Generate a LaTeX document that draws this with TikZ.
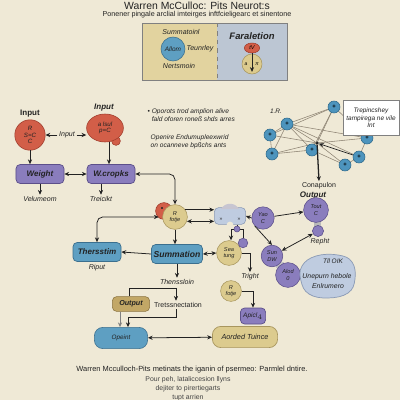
\documentclass[tikz,border=0pt]{standalone}
\usepackage{fontspec}
\setmainfont{Liberation Sans}
\usetikzlibrary{arrows.meta,shapes.geometric}
\definecolor{bg}{HTML}{EFE9D6}
\definecolor{purp}{HTML}{8A7DBD}
\definecolor{purpd}{HTML}{5C4F8A}
\definecolor{tealc}{HTML}{5E9FC2}
\definecolor{teald}{HTML}{3B6F8E}
\definecolor{tanc}{HTML}{DCCB8E}
\definecolor{tand}{HTML}{A8965E}
\definecolor{outc}{HTML}{C2A766}
\definecolor{outd}{HTML}{8C7440}
\definecolor{redc}{HTML}{D25E48}
\definecolor{redd}{HTML}{A03C2C}
\definecolor{blobc}{HTML}{BFCCE0}
\definecolor{blobd}{HTML}{8A9AB5}
\definecolor{netc}{HTML}{4D94BD}
\definecolor{netd}{HTML}{2F6A8C}
\definecolor{boxl}{HTML}{E2D39F}
\definecolor{boxr}{HTML}{BCC6D3}
\definecolor{ink}{HTML}{222222}
\definecolor{netline}{HTML}{8F8575}
\newcommand\fsz[2]{\fontsize{#1}{#2}\selectfont}
\begin{document}
\begin{tikzpicture}[x=0.25mm,y=-0.25mm,
  >={Stealth[length=3.4pt,width=3pt]},
  conn/.style={draw=ink, line width=0.55pt},
  lbl/.style={font=\fsz{5}{5.6}\itshape, text=ink, inner sep=1pt},
  boxtxt/.style={font=\fsz{5.7}{6}\bfseries\itshape, text=ink},
  pbox/.style={draw=purpd, fill=purp, rounded corners=3pt, line width=0.5pt, inner sep=0pt, boxtxt},
  tbox/.style={draw=teald, fill=tealc, rounded corners=3pt, line width=0.5pt, inner sep=0pt, boxtxt},
  nbox/.style={draw=tand, fill=tanc, rounded corners=6pt, line width=0.5pt, inner sep=0pt, font=\fsz{5.2}{6}\itshape, text=ink},
  pcirc/.style={circle, draw=purpd, fill=purp, inner sep=0pt, align=center, font=\fsz{4}{4.4}\itshape, text=ink},
  tcirc/.style={circle, draw=tand, fill=tanc, inner sep=0pt, align=center, font=\fsz{4}{4.4}\itshape, text=ink},
  netn/.style={circle, draw=netd, fill=netc, minimum size=3mm, inner sep=0pt, font=\fsz{4.2}{4}\bfseries},
  nl/.style={draw=netline, line width=0.4pt}]
\fill[bg] (0,0) rectangle (400,400);
\useasboundingbox (0,0) rectangle (400,400);

% title
\node[font=\fsz{7.4}{8}, text=ink] (title) at (197,6) {Warren McCulloc: Pits Neurot:s};
\node[font=\fsz{5.1}{6}, text=ink] (subt) at (197,15) {Ponener pingale arclial imteirges inftfcieligearc et sinentone};

% top box
\fill[boxl] (142,23) rectangle (217,80);
\fill[boxr] (217,23) rectangle (287,80);
\draw[gray, line width=0.6pt] (142,23) rectangle (287,80);
\draw[gray, dashed, line width=0.5pt] (217,23) -- (217,80);
\node[lbl, font=\fsz{5}{6}\itshape] (sumt) at (181,32) {Summatoinl};
\node[circle, fill=tealc, draw=teald, minimum size=6mm, inner sep=0pt, font=\fsz{4.6}{5}\itshape, text=ink] (allom) at (173,49) {Allom};
\node[lbl, font=\fsz{5}{6}\itshape] (teun) at (200,49) {Teunrley};
\node[lbl, font=\fsz{5}{6}\itshape] (nert) at (179,66) {Nertsmoin};
\node[font=\fsz{6.7}{7}\bfseries\itshape, text=ink] (fara) at (252,36) {Faraletion};
\node[ellipse, fill=redc, draw=redd, minimum width=3.8mm, minimum height=2.5mm, inner sep=0pt, font=\fsz{4}{4}\itshape] (tv) at (252,48) {tV};
\node[circle, fill=tanc, draw=tand, minimum size=5mm, inner sep=0pt] (acirc) at (252,64) {};
\node[font=\fsz{3.6}{4}\itshape] (aa) at (246,64) {a};
\node[font=\fsz{3.6}{4}\itshape] (api) at (257,64) {π};
\draw[conn,->] (tv.south) -- ([yshift=0.6mm]acirc.south);

% inputs
\node[font=\fsz{5.7}{6}\bfseries, text=ink] (inL) at (30,114) {Input};
\node[font=\fsz{5.7}{6}\bfseries\itshape, text=ink] (inR) at (104,108) {Input};
\node[circle, fill=redc, draw=redd, minimum size=7.6mm, inner sep=0pt, align=center, font=\fsz{4.4}{4.6}\itshape, text=ink] (blobL) at (30,135) {R\\S=C\\C};
\node[circle, fill=redc, draw=redd, minimum size=2.2mm, inner sep=0pt] (bump) at (116,141) {};
\node[ellipse, fill=redc, draw=redd, minimum width=9.2mm, minimum height=7mm, inner sep=0pt, align=center, font=\fsz{4.4}{4.8}\itshape, text=ink] (blobR) at (105,128) {a lsul\\p=C};
\node[lbl] (inM) at (67,135) {Input};
\draw[conn,->] (inM.west) -- (blobL.east);
\draw[conn,->] (inM.east) -- (blobR.west |- inM.east);

\node[pbox, minimum width=12mm, minimum height=4.75mm] (weight) at (40,174) {Weight};
\node[pbox, minimum width=12mm, minimum height=4.75mm] (wcrop) at (111,174) {W.cropks};
\draw[conn,->] (blobL.south) -- (weight.north -| blobL.south);
\coordinate (kx) at (109,0);
\draw[conn,->] (blobR.south -| kx) -- (wcrop.north -| kx);
\draw[conn,<->] (weight) -- (wcrop);
\node[lbl] (velu) at (40,199) {Velumeom};
\node[lbl] (trei) at (101,199) {Treicikt};
\draw[conn,->] (weight.south) -- (velu.north);
\draw[conn,->] (wcrop.south -| trei) -- (trei.north);

% text block
\node[lbl, anchor=west, align=left, font=\fsz{4.7}{5.3}\itshape] (tb1) at (146,115) {• Oporots trod amplion alive\\\hphantom{• }fald oforen roneß shds arres};
\node[lbl, anchor=west, align=left, font=\fsz{4.7}{5.3}\itshape] (tb2) at (149,142) {Openire Endumupleexwrid\\on ocanneve bpßchs ants};

% network
\coordinate (c1) at (334,107); \coordinate (c2) at (287,124);
\coordinate (c3) at (270,135); \coordinate (c4) at (272,154);
\coordinate (c5) at (312,150); \coordinate (c6) at (345,165);
\coordinate (c7) at (359,157); \coordinate (c8) at (367,138);
\node[circle, fill=ink, minimum size=0.9mm, inner sep=0pt] (hub) at (317,143) {};
\draw[nl] (c2) -- (c1); \draw[nl] (c2) -- (c3); \draw[nl] (c2) -- (c4);
\draw[nl] (c2) -- (c5); \draw[nl] (c2) -- (hub); \draw[nl] (c2) -- (c7);
\draw[nl] (c2) -- (c8); \draw[nl] (c1) -- (hub); \draw[nl] (c1) -- (c5);
\draw[nl] (c1) -- (c3); \draw[nl] (c3) -- (c4); \draw[nl] (c3) -- (hub);
\draw[nl] (c4) -- (c5); \draw[nl] (c4) -- (hub); \draw[nl] (hub) -- (c6);
\draw[nl] (hub) -- (c8); \draw[nl] (c6) -- (c7); \draw[nl] (c7) -- (c8);
\draw[nl] (c1) -- (c8); \draw[nl] (c5) -- (c6);
\node[netn] (n1) at (c1) {+}; \node[netn] (n2) at (c2) {+}; \node[netn] (n3) at (c3) {+};
\node[netn] (n4) at (c4) {+}; \node[netn] (n5) at (c5) {+}; \node[netn] (n6) at (c6) {+};
\node[netn] (n7) at (c7) {+}; \node[netn] (n8) at (c8) {+};
\draw[conn,->] (n7) -- (hub);
\node[lbl, font=\fsz{4.6}{5}\itshape] (ir) at (276,111) {1.R.};
\node[draw=gray, fill=white, minimum width=14mm, minimum height=8.8mm, inner sep=1pt, align=center, font=\fsz{4.6}{5.3}\itshape, text=ink] (call) at (371,118) {Trepincshey\\tampirega ne vile\\Int};
\node[lbl, font=\fsz{5}{5.5}] (conap) at (319,186) {Conapulon};
\draw[ink, line width=0.9pt, ->] (hub) -- (conap.north);

% output cluster
\node[font=\fsz{5.7}{6}\bfseries\itshape, text=ink] (outl) at (313,196) {Output};
\fill[gray!55] (314,220) rectangle (321,227);
\node[pcirc, minimum size=6.2mm] (tout) at (316,210) {Tout\\C};
\node[pcirc, minimum size=2.8mm] (pS) at (318,231) {};
\node[lbl] (repht) at (320,242) {Repht};
\node[pcirc, minimum size=5.6mm] (yao) at (263,218) {Yao\\C};
\fill[gray!45] (276,262) rectangle (284,268);
\node[pcirc, minimum size=5.4mm] (sundw) at (272,256) {Sun\\DW};
\node[pcirc, minimum size=6.2mm] (alod) at (288,275) {Alod\\0};
\draw[conn,->] (yao) -- (tout);
\draw[conn,<->] (sundw) -- (pS);
\draw[conn,->] (yao.south west) -- (sundw.north);

% big blob
\draw[fill=blobc, draw=blobd, line width=0.5pt] plot[smooth cycle, tension=0.7] coordinates {(302,266) (316,256) (338,255) (352,262) (355,279) (348,293) (328,298) (309,294) (301,281)};
\node[lbl, font=\fsz{4.6}{5}\itshape] (tll) at (333,261) {Tll OIK};
\node[lbl, font=\fsz{4.9}{5}\itshape] (unep) at (327,277) {Unepurn hebole};
\node[lbl, font=\fsz{4.9}{5}\itshape] (enl) at (328,286) {Enlrumero};

% cloud-like node
\node[draw=blobd, fill=blobc, rounded corners=3pt, minimum width=7.8mm, minimum height=4.2mm, inner sep=0pt] (cloud) at (230,216) {};
\fill[gray!60!purp!45] (221,209) .. controls (225,202) and (235,202) .. (239,209) -- cycle;
\fill[bg] (230,225) circle (3.4);
\node[font=\fsz{3.6}{4}, text=ink] (cl1) at (221,219) {»};
\node[font=\fsz{3.6}{4}, text=ink] (cl2) at (239,219) {»};
\draw[conn,->] (yao.west) -- (cloud.east);

% R fotje
\node[circle, fill=redc, draw=redd, minimum size=4.2mm, inner sep=0pt] (redb) at (164,211) {};
\node[tcirc, minimum size=6.2mm] (rf) at (175,217) {R\\fotje};
\fill[ink] (162,208) circle (1.1);
\draw[conn,<->, rounded corners=4pt] (wcrop.east) -| (rf.north);
\draw[conn,->] (rf.35) -- (cloud.west |- rf.35);
\draw[conn,<->] (rf.-20) -- (cloud.west |- rf.-20);

\node[tbox, minimum width=12.75mm, minimum height=4.75mm, font=\fsz{6.1}{6.5}\bfseries\itshape] (summ) at (177,254) {Summation};
\node[tbox, minimum width=12mm, minimum height=4.75mm] (thers) at (97,252) {Thersstim};
\node[lbl] (riput) at (97,268) {Riput};
\draw[conn,<->, rounded corners=4pt] (thers.north) |- ([xshift=-0.9mm]rf.west);
\draw[conn,->] (rf.south) -- (summ.north -| rf.south);
\draw[conn,->] (summ.west) -- (thers.east);

% sea tung
\node[tcirc, minimum size=6.2mm] (sea) at (229,253) {Sea\\tung};
\node[pcirc, minimum size=2.4mm] (psm) at (243,243) {};
\coordinate (b1) at (231,229);
\coordinate (b2) at (243,229);
\coordinate (b3) at (237,0);
\draw[conn] (cloud.south -| b3) -- (237,229);
\draw[conn] (b1) -- (b2) -- (psm.north);
\draw[conn,->] (b1) -- (sea.north -| b1);
\node[pcirc, minimum size=1.5mm] (pdot) at (237,229) {};
\draw[conn,<->] (summ.east) -- (sea.west);
\node[lbl] (tright) at (250,277) {Tright};
\draw[conn,->] (sea.east) -| (tright.north);

\node[tcirc, minimum size=5.2mm] (rf2) at (231,291) {R\\fotje};
\node[pbox, minimum width=6.3mm, minimum height=4mm, rounded corners=3pt, font=\fsz{4.6}{5}\itshape] (apicl) at (253,316) {Apicl$_{\scriptscriptstyle 4}$};
\draw[conn,->] (rf2.east) -| (apicl.north);

% lower part
\node[lbl, font=\fsz{5}{5.5}\itshape] (thens) at (177,282) {Thenssloin};
\draw[conn,->] (summ.south -| thens) -- (thens.north);
\node[draw=outd, fill=outc, rounded corners=3pt, minimum width=9.3mm, minimum height=3.7mm, inner sep=0pt, boxtxt, font=\fsz{5.1}{5.5}\bfseries\itshape] (output) at (131,304) {Output};
\node[lbl, font=\fsz{5}{5.5}] (tret) at (178,305) {Tretssnectation};
\node[draw=teald, fill=tealc, rounded corners=6pt, minimum width=13.3mm, minimum height=5.3mm, inner sep=0pt, font=\fsz{4.5}{5}\itshape, text=ink] (opeint) at (121,338) {Opeint};
\node[nbox, minimum width=16.3mm, minimum height=5.3mm] (aorded) at (245,337) {Aorded Tuince};
\coordinate (k1) at (176,288);
\coordinate (k2) at (128,317);
\coordinate (k3) at (120,0);
\coordinate (k4) at (129,0);
\draw[conn,->] (output.north -| k4) |- (k1) -- (tret.north -| k1);
\draw[conn,->] (tret.south -| k1) |- (k2) -- (opeint.north -| k2);
\draw[gray, line width=0.7pt, ->] (output.south -| k3) -- (opeint.north -| k3);
\draw[conn,<->] (opeint) -- (aorded);

% bottom text
\node[font=\fsz{5.3}{6}, text=ink] (bt1) at (192,370) {Warren Mcculloch-Pits metinats the iganin of psermeo: Parmlel dntire.};
\node[font=\fsz{4.9}{6}, text=ink!85] (bt2) at (188,380) {Pour peh, lataliccesion llyns};
\node[font=\fsz{4.9}{6}, text=ink!85] (bt3) at (188,389) {dejiter to pirertiegarts};
\node[font=\fsz{4.9}{6}, text=ink!85] (bt4) at (188,398) {tupt arrien};
\end{tikzpicture}
\end{document}
